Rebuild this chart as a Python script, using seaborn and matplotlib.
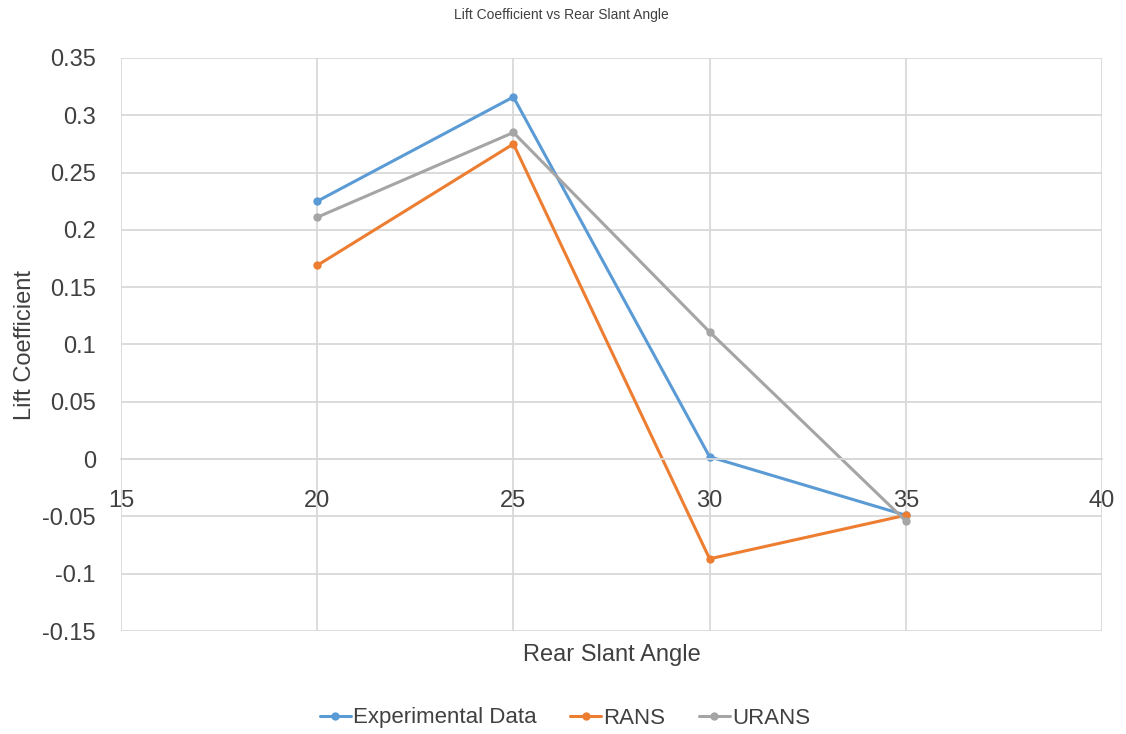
import matplotlib
matplotlib.use("Agg")
import matplotlib.pyplot as plt
import seaborn as sns
import pandas as pd

angles = [20, 25, 30, 35]
experimental = [0.225, 0.316, 0.002, -0.049]
rans = [0.169, 0.275, -0.087, -0.049]
urans = [0.211, 0.285, 0.111, -0.054]
series_names = ["Experimental Data", "RANS", "URANS"]
x_ticks = [15, 20, 25, 30, 35, 40]
y_ticks = [-0.15, -0.1, -0.05, 0, 0.05, 0.1, 0.15, 0.2, 0.25, 0.3, 0.35]
y_tick_labels = ["-0.15", "-0.1", "-0.05", "0", "0.05", "0.1", "0.15", "0.2", "0.25", "0.3", "0.35"]

rows = []
for name, vals in zip(series_names, [experimental, rans, urans]):
    for a, v in zip(angles, vals):
        rows.append({"angle": a, "value": v, "series": name})
df = pd.DataFrame(rows)

sns.set_theme(style="white")
plt.rcParams["font.family"] = ["Liberation Sans", "DejaVu Sans"]
text_color = "#404040"
grid_color = "#d9d9d9"
palette = {"Experimental Data": "#5B9BD5", "RANS": "#ED7D31", "URANS": "#A5A5A5"}

fig = plt.figure(figsize=(11.26, 7.34), dpi=100)
ax = fig.add_axes([121/1126, 1-631/734, (1102-121)/1126, (631-58)/734])

sns.lineplot(data=df, x="angle", y="value", hue="series", palette=palette,
             marker="o", markersize=6, markeredgewidth=0, linewidth=2.2,
             ax=ax, legend=True, sort=False)

ax.set_xlim(15, 40)
ax.set_ylim(-0.15, 0.35)
ax.set_xticks(x_ticks)
ax.set_yticks(y_ticks)
ax.set_yticklabels(y_tick_labels)
ax.grid(True, color=grid_color, linewidth=1.3)
ax.set_axisbelow(True)
for s in ["top", "right", "left"]:
    ax.spines[s].set_visible(False)
ax.spines["bottom"].set_position(("data", 0))
ax.spines["bottom"].set_color(grid_color)
ax.spines["bottom"].set_linewidth(1.3)
ax.tick_params(axis="both", length=0, labelsize=17, labelcolor=text_color)
ax.tick_params(axis="x", pad=22)
ax.tick_params(axis="y", pad=18)
ax.set_xlabel("")
ax.set_ylabel("")

fig.text(612/1126, 1-655/734, "Rear Slant Angle", ha="center", va="center",
         fontsize=17, color=text_color)
fig.text(25/1126, 1-345/734, "Lift Coefficient", ha="center", va="center",
         rotation=90, fontsize=17, color=text_color)
fig.text(561/1126, 1-15/734, "Lift Coefficient vs Rear Slant Angle", ha="center",
         va="center", fontsize=10, color=text_color)

handles, labels = ax.get_legend_handles_labels()
ax.get_legend().remove()
leg = fig.legend(handles, labels, loc="center", bbox_to_anchor=(565/1126, 1-718/734),
                 ncol=3, frameon=False, fontsize=16, handlelength=1.4,
                 handletextpad=0.1, columnspacing=1.5, labelcolor=text_color)

fig.savefig("out.png", dpi=100)
